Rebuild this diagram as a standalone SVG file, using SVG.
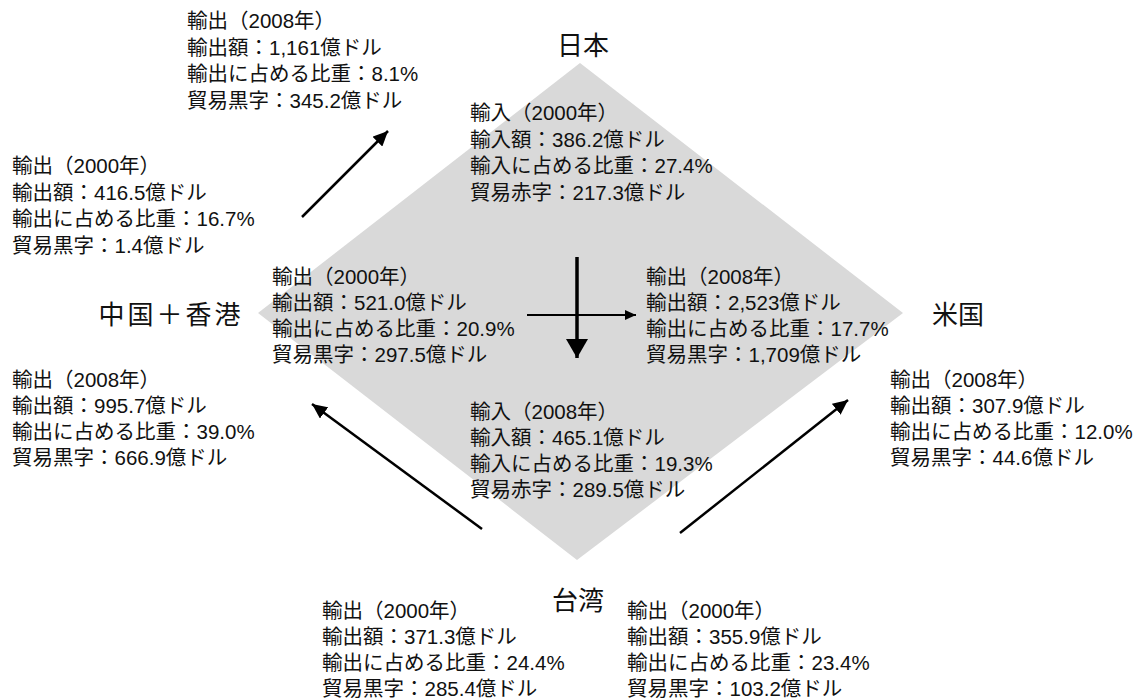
<svg xmlns="http://www.w3.org/2000/svg" width="1144" height="699" viewBox="0 0 1144 699">
  <style>
    .t { font-family: "Liberation Sans", "Noto Sans CJK JP", sans-serif; font-size: 20.5px; fill: #111; }
    .c { font-family: "Liberation Sans", "Noto Sans CJK JP", sans-serif; font-size: 26px; fill: #111; text-anchor: middle; }
    .ln { stroke: #000; fill: none; }
  </style>
  <defs>
    <marker id="ah" markerUnits="userSpaceOnUse" markerWidth="16" markerHeight="14" refX="15" refY="7" orient="auto">
      <path d="M0,0 L15,7 L0,14 z" fill="#000"/>
    </marker>
    <marker id="ahs" markerUnits="userSpaceOnUse" markerWidth="12" markerHeight="10" refX="11" refY="5" orient="auto">
      <path d="M0,0 L11,5 L0,10 z" fill="#000"/>
    </marker>
    <marker id="ahb" markerUnits="userSpaceOnUse" markerWidth="20" markerHeight="22" refX="19" refY="11" orient="auto">
      <path d="M0,0 L19,11 L0,22 z" fill="#000"/>
    </marker>
  </defs>

  <rect width="1144" height="699" fill="#fff"/>

  <g id="diamond">
    <polygon points="580,63 903,313 577,560 258,313" fill="#d9d9d9"/>
  </g>

  <g id="connectors">
    <path class="ln" d="M302,217 L388,131" stroke-width="2.5" marker-end="url(#ah)"/>
    <path class="ln" d="M482,529 L312,404" stroke-width="2.5" marker-end="url(#ah)"/>
    <path class="ln" d="M680,533 L848,400" stroke-width="2.5" marker-end="url(#ah)"/>
    <path class="ln" d="M577,257 L577,358" stroke-width="3.5" marker-end="url(#ahb)"/>
    <path class="ln" d="M527,315 L636,315" stroke-width="2" marker-end="url(#ahs)"/>
  </g>

  <g id="node-japan">
    <text class="c" x="583" y="55">日本</text>
  </g>
  <g id="node-china">
    <text class="c" x="171" y="324" letter-spacing="3">中国＋香港</text>
  </g>
  <g id="node-us">
    <text class="c" x="958" y="324">米国</text>
  </g>
  <g id="node-taiwan">
    <text class="c" x="578" y="610">台湾</text>
  </g>

  <g id="info-cn-jp-2008">
    <text class="t" x="187" y="28">輸出（2008年）</text>
    <text class="t" x="187" y="54.5">輸出額：1,161億ドル</text>
    <text class="t" x="187" y="81">輸出に占める比重：8.1%</text>
    <text class="t" x="187" y="107.5">貿易黒字：345.2億ドル</text>
  </g>
  <g id="info-jp-import-2000">
    <text class="t" x="470" y="120">輸入（2000年）</text>
    <text class="t" x="470" y="146.5">輸入額：386.2億ドル</text>
    <text class="t" x="470" y="173">輸入に占める比重：27.4%</text>
    <text class="t" x="470" y="199.5">貿易赤字：217.3億ドル</text>
  </g>
  <g id="info-cn-jp-2000">
    <text class="t" x="12" y="173">輸出（2000年）</text>
    <text class="t" x="12" y="199.5">輸出額：416.5億ドル</text>
    <text class="t" x="12" y="226">輸出に占める比重：16.7%</text>
    <text class="t" x="12" y="252.5">貿易黒字：1.4億ドル</text>
  </g>
  <g id="info-cn-us-2000">
    <text class="t" x="272" y="284">輸出（2000年）</text>
    <text class="t" x="272" y="310">輸出額：521.0億ドル</text>
    <text class="t" x="272" y="336">輸出に占める比重：20.9%</text>
    <text class="t" x="272" y="362">貿易黒字：297.5億ドル</text>
  </g>
  <g id="info-cn-us-2008">
    <text class="t" x="646" y="284">輸出（2008年）</text>
    <text class="t" x="646" y="310">輸出額：2,523億ドル</text>
    <text class="t" x="646" y="336">輸出に占める比重：17.7%</text>
    <text class="t" x="646" y="362">貿易黒字：1,709億ドル</text>
  </g>
  <g id="info-tw-cn-2008">
    <text class="t" x="12" y="387">輸出（2008年）</text>
    <text class="t" x="12" y="413">輸出額：995.7億ドル</text>
    <text class="t" x="12" y="439">輸出に占める比重：39.0%</text>
    <text class="t" x="12" y="465">貿易黒字：666.9億ドル</text>
  </g>
  <g id="info-jp-import-2008">
    <text class="t" x="470" y="419">輸入（2008年）</text>
    <text class="t" x="470" y="445">輸入額：465.1億ドル</text>
    <text class="t" x="470" y="471">輸入に占める比重：19.3%</text>
    <text class="t" x="470" y="497">貿易赤字：289.5億ドル</text>
  </g>
  <g id="info-tw-us-2008">
    <text class="t" x="890" y="387">輸出（2008年）</text>
    <text class="t" x="890" y="413">輸出額：307.9億ドル</text>
    <text class="t" x="890" y="439">輸出に占める比重：12.0%</text>
    <text class="t" x="890" y="465">貿易黒字：44.6億ドル</text>
  </g>
  <g id="info-tw-cn-2000">
    <text class="t" x="322" y="618">輸出（2000年）</text>
    <text class="t" x="322" y="644">輸出額：371.3億ドル</text>
    <text class="t" x="322" y="670">輸出に占める比重：24.4%</text>
    <text class="t" x="322" y="696">貿易黒字：285.4億ドル</text>
  </g>
  <g id="info-tw-us-2000">
    <text class="t" x="627" y="618">輸出（2000年）</text>
    <text class="t" x="627" y="644">輸出額：355.9億ドル</text>
    <text class="t" x="627" y="670">輸出に占める比重：23.4%</text>
    <text class="t" x="627" y="696">貿易黒字：103.2億ドル</text>
  </g>
</svg>
